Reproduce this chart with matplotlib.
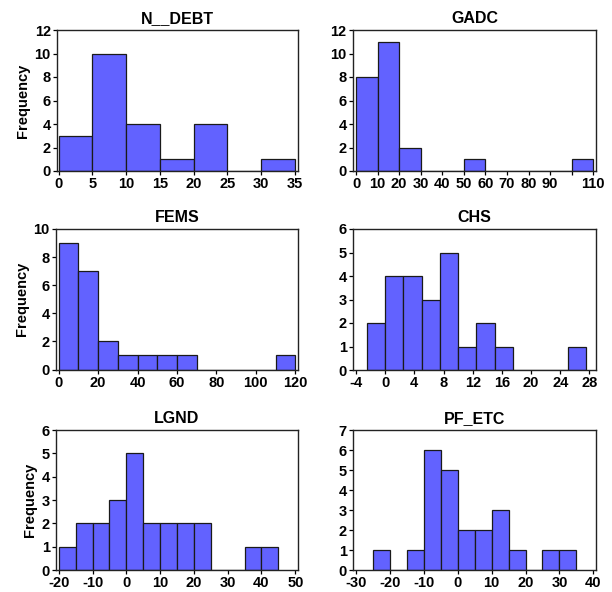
import matplotlib
matplotlib.use("Agg")
import matplotlib.pyplot as plt

plt.rcParams['font.family'] = ['Liberation Sans', 'DejaVu Sans']
plt.rcParams['font.weight'] = 'bold'
plt.rcParams['axes.unicode_minus'] = False

# histogram data: bin edges and counts per variable
ndebt_edges = [0, 5, 10, 15, 20, 25, 30, 35]
ndebt_counts = [3, 10, 4, 1, 4, 0, 1]

gadc_edges = [0, 10, 20, 30, 40, 50, 60, 70, 80, 90, 100, 110]
gadc_counts = [8, 11, 2, 0, 0, 1, 0, 0, 0, 0, 1]

fems_edges = [0, 10, 20, 30, 40, 50, 60, 70, 80, 90, 100, 110, 120]
fems_counts = [9, 7, 2, 1, 1, 1, 1, 0, 0, 0, 0, 1]

chs_edges = [-2.5, 0, 2.5, 5, 7.5, 10, 12.5, 15, 17.5, 20, 22.5, 25, 27.5]
chs_counts = [2, 4, 4, 3, 5, 1, 2, 1, 0, 0, 0, 1]

lgnd_edges = [-20, -15, -10, -5, 0, 5, 10, 15, 20, 25, 30, 35, 40, 45]
lgnd_counts = [1, 2, 2, 3, 5, 2, 2, 2, 2, 0, 0, 1, 1]

pfetc_edges = [-25, -20, -15, -10, -5, 0, 5, 10, 15, 20, 25, 30, 35]
pfetc_counts = [1, 0, 1, 6, 5, 2, 2, 3, 1, 0, 1, 1]

# x ticks / labels
ndebt_ticks = [0, 5, 10, 15, 20, 25, 30, 35]
gadc_ticks = [0, 10, 20, 30, 40, 50, 60, 70, 80, 90, 100, 110]
gadc_labels = ['0', '10', '20', '30', '40', '50', '60', '70', '80', '90', '', '110']
fems_ticks = [0, 20, 40, 60, 80, 100, 120]
chs_ticks = [-4, 0, 4, 8, 12, 16, 20, 24, 28]
lgnd_ticks = [-20, -10, 0, 10, 20, 30, 40, 50]
pfetc_ticks = [-30, -20, -10, 0, 10, 20, 30, 40]

W, H = 612, 592
fig = plt.figure(figsize=(W / 100, H / 100), dpi=100)

def px_axes(left, right, top, bottom):
    return fig.add_axes([left / W, 1 - bottom / H, (right - left) / W, (bottom - top) / H])

panels = [
    ("N__DEBT", ndebt_edges, ndebt_counts, ndebt_ticks, None, (-0.25, 35.45), 12, [0, 2, 4, 6, 8, 10, 12], (57, 298, 30, 171), True),
    ("GADC", gadc_edges, gadc_counts, gadc_ticks, gadc_labels, (-1.4, 111.25), 12, [0, 2, 4, 6, 8, 10, 12], (353, 596, 30, 171), False),
    ("FEMS", fems_edges, fems_counts, fems_ticks, None, (-1.37, 121.4), 10, [0, 2, 4, 6, 8, 10], (56, 298, 229, 369.5), True),
    ("CHS", chs_edges, chs_counts, chs_ticks, None, (-4.41, 28.9), 6, [0, 1, 2, 3, 4, 5, 6], (353, 596, 229, 370), False),
    ("LGND", lgnd_edges, lgnd_counts, lgnd_ticks, None, (-20.8, 50.8), 6, [0, 1, 2, 3, 4, 5, 6], (56, 298, 430, 570), True),
    ("PF_ETC", pfetc_edges, pfetc_counts, pfetc_ticks, None, (-30.9, 40.8), 7, [0, 1, 2, 3, 4, 5, 6, 7], (353, 596, 430, 570), False),
]

bar_color = '#6262FF'
edge_color = '#1a1a1a'

for title, edges, counts, xticks, xlabels, xlim, ymax, yticks, box, ylab in panels:
    ax = px_axes(*box)
    widths = [edges[i + 1] - edges[i] for i in range(len(counts))]
    ax.bar(edges[:-1], counts, width=widths, align='edge',
           color=bar_color, edgecolor=edge_color, linewidth=0.9)
    ax.set_xlim(*xlim)
    ax.set_ylim(0, ymax)
    ax.set_xticks(xticks)
    if xlabels is not None:
        ax.set_xticklabels(xlabels)
    ax.set_yticks(yticks)
    ax.tick_params(labelsize=10.5, length=3, width=0.9, pad=1.5, colors='black')
    for s in ax.spines.values():
        s.set_linewidth(1.0)
        s.set_color('#222222')
    ax.set_title(title, fontsize=11.5, fontweight='bold', pad=5)
    if ylab:
        ax.set_ylabel("Frequency", fontsize=10.5, fontweight='bold', labelpad=3)

fig.savefig("out.png", dpi=100)
